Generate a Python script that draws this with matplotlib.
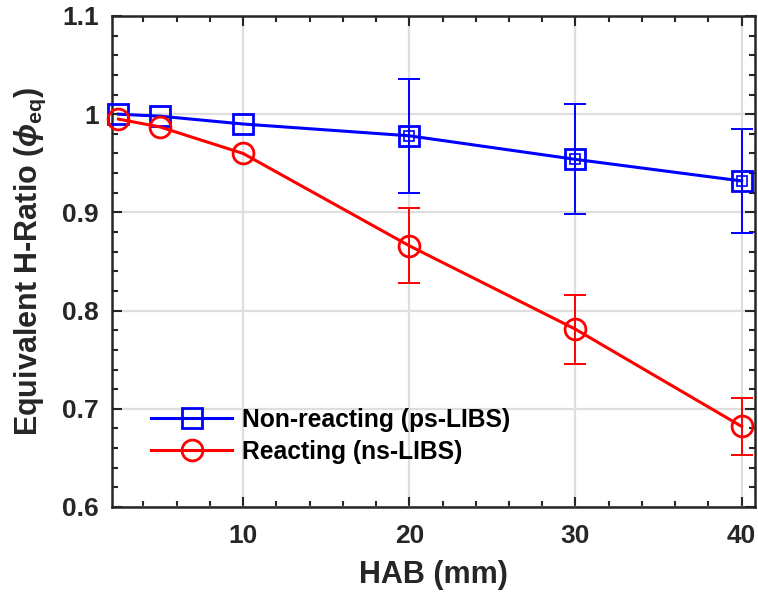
import matplotlib
matplotlib.use("Agg")
import matplotlib.pyplot as plt
from matplotlib.ticker import MultipleLocator

plt.rcParams['font.family'] = ['Liberation Sans', 'DejaVu Sans']
plt.rcParams['font.weight'] = 'bold'
plt.rcParams['mathtext.fontset'] = 'custom'
plt.rcParams['mathtext.rm'] = 'Liberation Sans:bold'
plt.rcParams['mathtext.bf'] = 'Liberation Sans:bold'
plt.rcParams['mathtext.it'] = 'Liberation Sans:italic'

# HAB positions (mm)
hab = [2.5, 5, 10, 20, 30, 40]

# Equivalent H-ratio, non-reacting (ps-LIBS)
phi_nonreact = [1.000, 0.998, 0.990, 0.978, 0.954, 0.932]
# Equivalent H-ratio, reacting (ns-LIBS)
phi_react = [0.995, 0.987, 0.960, 0.866, 0.781, 0.682]

# Error bars (available at 20, 30, 40 mm)
hab_err = [20, 30, 40]
nonreact_err_val = [0.978, 0.954, 0.932]
nonreact_err = [0.058, 0.056, 0.053]
react_err_val = [0.866, 0.781, 0.682]
react_err = [0.038, 0.035, 0.029]

x_ticks = [10, 20, 30, 40]
y_ticks = [0.6, 0.7, 0.8, 0.9, 1.0, 1.1]
y_ticklabels = ['0.6', '0.7', '0.8', '0.9', '1', '1.1']

fig = plt.figure(figsize=(7.58, 5.97), dpi=100)
ax = fig.add_axes([0.1484, 0.1508, 0.8476, 0.8224])

blue = '#0000FF'
red = '#FF0000'

ax.errorbar(hab_err, nonreact_err_val, yerr=nonreact_err, fmt='none',
            ecolor=blue, elinewidth=1.4, capsize=8, capthick=1.4, zorder=3)
ax.errorbar(hab_err, react_err_val, yerr=react_err, fmt='none',
            ecolor=red, elinewidth=1.4, capsize=8, capthick=1.4, zorder=3)
ax.plot(hab_err, nonreact_err_val, linestyle='none', marker='s', ms=7,
        mfc='none', mec=blue, mew=1.2, zorder=4, clip_on=False)

ax.plot(hab, phi_nonreact, color=blue, lw=2.2, marker='s', ms=14,
        mfc='none', mec=blue, mew=2.0, label='Non-reacting (ps-LIBS)',
        zorder=5, clip_on=False)
ax.plot(hab, phi_react, color=red, lw=2.2, marker='o', ms=15,
        mfc='none', mec=red, mew=2.0, label='Reacting (ns-LIBS)',
        zorder=5, clip_on=False)

ax.set_xlim(2.14, 40.8)
ax.set_ylim(0.6, 1.1)
ax.set_xticks(x_ticks)
ax.set_yticks(y_ticks)
ax.set_yticklabels(y_ticklabels)
ax.xaxis.set_minor_locator(MultipleLocator(2))
ax.yaxis.set_minor_locator(MultipleLocator(0.02))

ax.grid(True, which='major', color='#DEDEDE', lw=1.6, zorder=0)
ax.set_axisbelow(True)

ax.tick_params(which='both', direction='in', top=True, right=True,
               colors='#262626', labelsize=19, width=1.5)
ax.tick_params(which='major', length=7, pad=10)
ax.tick_params(which='minor', length=4)
ax.tick_params(axis='x', which='major', pad=12)
for lab in ax.get_xticklabels() + ax.get_yticklabels():
    lab.set_fontweight('bold')
for sp in ax.spines.values():
    sp.set_linewidth(1.8)
    sp.set_color('#262626')

ax.set_xlabel('HAB (mm)', fontsize=22, fontweight='bold', color='#262626', labelpad=9)
ax.set_ylabel(r'Equivalent H-Ratio ($\phi_{\mathbf{eq}}$)', fontsize=22,
              fontweight='bold', color='#262626', labelpad=10)

leg = ax.legend(loc='lower left', bbox_to_anchor=(0.045, 0.068), frameon=False,
                fontsize=17.7, handlelength=3.3, handletextpad=0.4,
                labelspacing=0.33, borderaxespad=0)
for t in leg.get_texts():
    t.set_fontweight('bold')

fig.savefig('out.png', dpi=100)
